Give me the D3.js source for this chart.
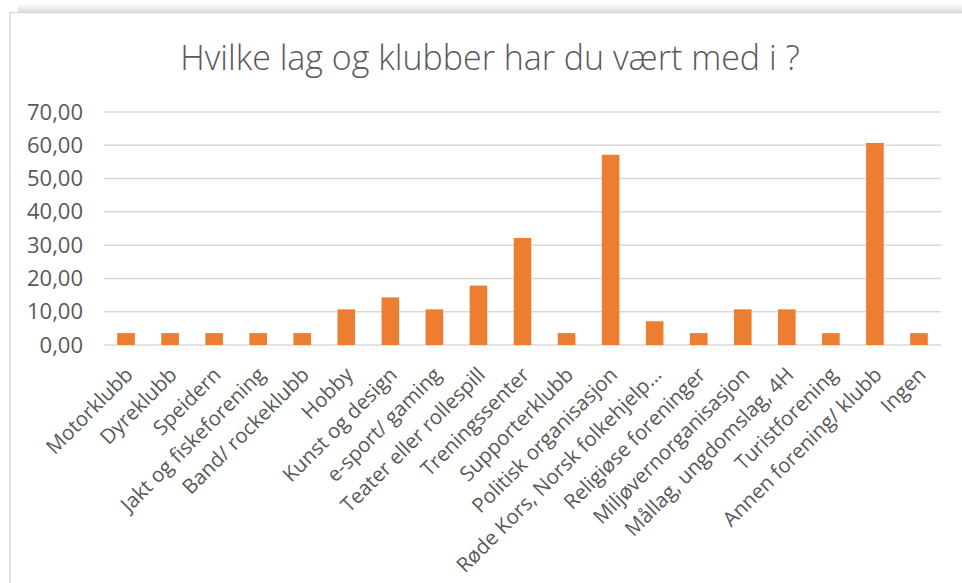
<!DOCTYPE html>
<html>
<head>
<meta charset="utf-8">
<script src="https://cdn.jsdelivr.net/npm/d3@7"></script>
<style>
  body { margin: 0; background: #fff; }
  svg { display: block; font-family: "Open Sans", sans-serif; }
</style>
</head>
<body>
<script>
// chart data
var title = "Hvilke lag og klubber har du vært med i ?";
var categories = ["Motorklubb", "Dyreklubb", "Speidern", "Jakt og fiskeforening",
  "Band/ rockeklubb", "Hobby", "Kunst og design", "e-sport/ gaming",
  "Teater eller rollespill", "Treningssenter", "Supporterklubb",
  "Politisk organisasjon", "Røde Kors, Norsk folkehjelp…", "Religiøse foreninger",
  "Miljøvernorganisasjon", "Mållag, ungdomslag, 4H", "Turistforening",
  "Annen forening/ klubb", "Ingen"];
var values = [3.57, 3.57, 3.57, 3.57, 3.57, 10.71, 14.29, 10.71, 17.86, 32.14,
  3.57, 57.14, 7.14, 3.57, 10.71, 10.71, 3.57, 60.71, 3.57];
var yTicks = [0, 10, 20, 30, 40, 50, 60, 70];

var W = 962, H = 583;
var margin = {top: 112, right: 21, bottom: 238, left: 104},
    width = W - margin.left - margin.right,
    height = H - margin.top - margin.bottom;

var svg = d3.select("body").append("svg")
    .attr("width", W)
    .attr("height", H);

// frame with a soft shadow on top
var defs = svg.append("defs");
var grad = defs.append("linearGradient").attr("id", "shadow")
    .attr("x1", 0).attr("y1", 0).attr("x2", 0).attr("y2", 1);
grad.append("stop").attr("offset", "0%").attr("stop-color", "#fff");
grad.append("stop").attr("offset", "100%").attr("stop-color", "#dcdcdc");

svg.append("rect")
    .attr("x", 18).attr("y", 4).attr("width", W - 18).attr("height", 8)
    .attr("fill", "url(#shadow)");
svg.append("rect")
    .attr("x", 10).attr("y", 12.5).attr("width", W + 20).attr("height", H + 20)
    .attr("fill", "#fff")
    .attr("stroke", "#d9d9d9")
    .attr("stroke-width", 1.5);

svg.append("text")
    .attr("x", 490)
    .attr("y", 70)
    .attr("text-anchor", "middle")
    .attr("fill", "#595959")
    .style("font-size", "34px")
    .style("font-weight", 300)
    .text(title);

var g = svg.append("g")
    .attr("transform", "translate(" + margin.left + "," + margin.top + ")");

var x = d3.scaleBand().domain(categories).range([0, width]).paddingInner(0.6).paddingOuter(0.3);
var y = d3.scaleLinear().domain([0, 70]).range([height, 0]);

// gridlines
g.selectAll(".grid")
    .data(yTicks)
    .enter().append("line")
    .attr("class", "grid")
    .attr("x1", 0).attr("x2", width)
    .attr("y1", function(d) { return y(d); })
    .attr("y2", function(d) { return y(d); })
    .attr("stroke", "#d9d9d9")
    .attr("stroke-width", 1.5);

// y axis labels
var yAxis = g.append("g")
    .call(d3.axisLeft(y).tickValues(yTicks).tickSize(0).tickPadding(21)
      .tickFormat(function(d) { return d3.format(".2f")(d).replace(".", ","); }));
yAxis.select(".domain").remove();
yAxis.selectAll("text")
    .attr("fill", "#595959")
    .style("font-size", "22px")
    .style("font-family", "'Open Sans', sans-serif");

// bars
g.selectAll(".bar")
    .data(values)
    .enter().append("rect")
    .attr("class", "bar")
    .attr("x", function(d, i) { return x(categories[i]); })
    .attr("width", x.bandwidth())
    .attr("y", function(d) { return y(d); })
    .attr("height", function(d) { return height - y(d); })
    .attr("fill", "#ed7d31");

// x axis labels, rotated
var xAxis = g.append("g")
    .attr("transform", "translate(0," + height + ")")
    .call(d3.axisBottom(x).tickSize(0).tickPadding(0));
xAxis.select(".domain").remove();
xAxis.selectAll("text")
    .attr("fill", "#595959")
    .style("font-size", "20.5px")
    .style("font-family", "'Open Sans', sans-serif")
    .attr("text-anchor", "end")
    .attr("y", 0)
    .attr("dy", "0.35em")
    .attr("transform", "translate(3,26) rotate(-45)");
</script>
</body>
</html>
